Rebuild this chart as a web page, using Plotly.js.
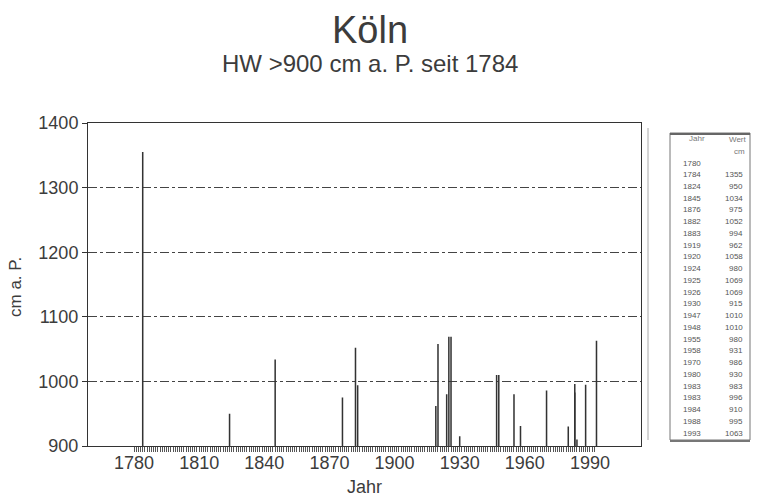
<!DOCTYPE html>
<html><head><meta charset="utf-8">
<script src="https://cdn.plot.ly/plotly-3.0.1.min.js"></script>
<style>html,body{margin:0;padding:0;background:#fff}</style>
</head><body><div id="chart" style="width:778px;height:496px"></div>
<script>
// Data
const years  = [1784,1824,1845,1876,1882,1883,1919,1920,1924,1925,1926,1930,1947,1948,1955,1958,1970,1980,1983,1983,1984,1988,1993];
const values = [1355, 950,1034, 975,1052, 994, 962,1058, 980,1069,1069, 915,1010,1010, 980, 931, 986, 930, 983, 996, 910, 995,1063];
const tableYears  = ['1780','1784','1824','1845','1876','1882','1883','1919','1920','1924','1925','1926','1930','1947','1948','1955','1958','1970','1980','1983','1983','1984','1988','1993'];
const tableValues = ['','1355','950','1034','975','1052','994','962','1058','980','1069','1069','915','1010','1010','980','931','986','930','983','996','910','995','1063'];
const xTickVals = [1780,1810,1840,1870,1900,1930,1960,1990];
const yTickVals = [900,1000,1100,1200,1300,1400];
const minorStart = 1780, minorEnd = 1992;

// layout helpers (pixel -> paper)
const L = 88, R = 641, T = 123, B = 446;
const X = px => (px - L) / (R - L);
const Y = py => (B - py) / (B - T);

const minorTicks = [];
for (let y = minorStart; y <= minorEnd; y++) minorTicks.push(y);

const txt = '#3c3c3c';
const font = 'Liberation Sans, Arial, sans-serif';

const annotations = [
  {text:'HW >900 cm a. P. seit 1784', xref:'paper', yref:'paper', x:X(370), y:Y(64), xanchor:'center', yanchor:'middle', showarrow:false, font:{size:24, color:txt, family:font}},
  {text:'cm a. P.', xref:'paper', yref:'paper', x:X(15), y:Y(287), xanchor:'center', yanchor:'middle', textangle:-90, showarrow:false, font:{size:17, color:txt, family:font}},
  {text:'Jahr', xref:'paper', yref:'paper', x:X(364), y:Y(487), xanchor:'center', yanchor:'middle', showarrow:false, font:{size:18, color:txt, family:font}},
  {text:'Jahr', xref:'paper', yref:'paper', x:X(697), y:Y(138), xanchor:'center', yanchor:'middle', showarrow:false, font:{size:8, color:'#777', family:font}},
  {text:'Wert', xref:'paper', yref:'paper', x:X(749), y:Y(139), xanchor:'right', yanchor:'middle', showarrow:false, font:{size:8, color:'#777', family:font}},
  {text:'cm', xref:'paper', yref:'paper', x:X(747), y:Y(151), xanchor:'right', yanchor:'middle', showarrow:false, font:{size:8, color:'#777', family:font}}
];
const rowTop = 163, rowStep = (433 - 163) / (tableYears.length - 1);
tableYears.forEach((yr, i) => {
  const py = rowTop + i * rowStep;
  annotations.push({text: yr, xref:'paper', yref:'paper', x:X(692), y:Y(py), xanchor:'center', yanchor:'middle', showarrow:false, font:{size:8, color:'#555', family:font}});
  if (tableValues[i] !== '') annotations.push({text: tableValues[i], xref:'paper', yref:'paper', x:X(745), y:Y(py), xanchor:'right', yanchor:'middle', showarrow:false, font:{size:8, color:'#555', family:font}});
});

const shapes = [
  {type:'rect', xref:'paper', yref:'paper', x0:X(670), x1:X(750), y0:Y(440), y1:Y(133), line:{color:'#777', width:1}},
  {type:'line', xref:'paper', yref:'paper', x0:X(670), x1:X(750), y0:Y(134), y1:Y(134), line:{color:'#666', width:2}},
  {type:'line', xref:'paper', yref:'paper', x0:X(670), x1:X(750), y0:Y(441), y1:Y(441), line:{color:'#777', width:2}},
  {type:'line', xref:'paper', yref:'paper', x0:X(648), x1:X(648), y0:Y(440), y1:Y(128), line:{color:'#aaa', width:1}}
];

const trace = {
  type:'bar', x: years, y: values, width: 0.7,
  marker:{color:'#333', line:{width:0}},
  hoverinfo:'x+y'
};

const layout = {
  width:778, height:496,
  margin:{l:L, r:778-R, t:T, b:496-B, pad:0},
  paper_bgcolor:'#fff', plot_bgcolor:'#fff',
  showlegend:false,
  barmode:'overlay',
  title:{text:'Köln', x:370/778, xanchor:'center', xref:'container', y:1-30/496, yanchor:'middle', yref:'container', font:{size:38, color:txt, family:font}},
  xaxis:{
    range:[1758.8, 2013.5], showline:true, mirror:true, linecolor:'#333', linewidth:1,
    showgrid:false, zeroline:false,
    tickmode:'array', tickvals:xTickVals, ticktext:xTickVals.map(String), ticks:'',
    tickfont:{size:18, color:txt, family:font},
    minor:{tickmode:'array', tickvals:minorTicks, ticks:'outside', ticklen:5, tickwidth:1, tickcolor:'#555', showgrid:false}
  },
  yaxis:{
    range:[900,1400], showline:true, mirror:true, linecolor:'#333', linewidth:1,
    tickmode:'array', tickvals:yTickVals, ticks:'outside', ticklen:5, tickcolor:'#333',
    showgrid:true, gridcolor:'#444', gridwidth:1, griddash:'dashdot', zeroline:false,
    tickfont:{size:18, color:txt, family:font}
  },
  annotations: annotations,
  shapes: shapes
};
Plotly.newPlot('chart', [trace], layout, {staticPlot:true, displayModeBar:false});
</script></body></html>
